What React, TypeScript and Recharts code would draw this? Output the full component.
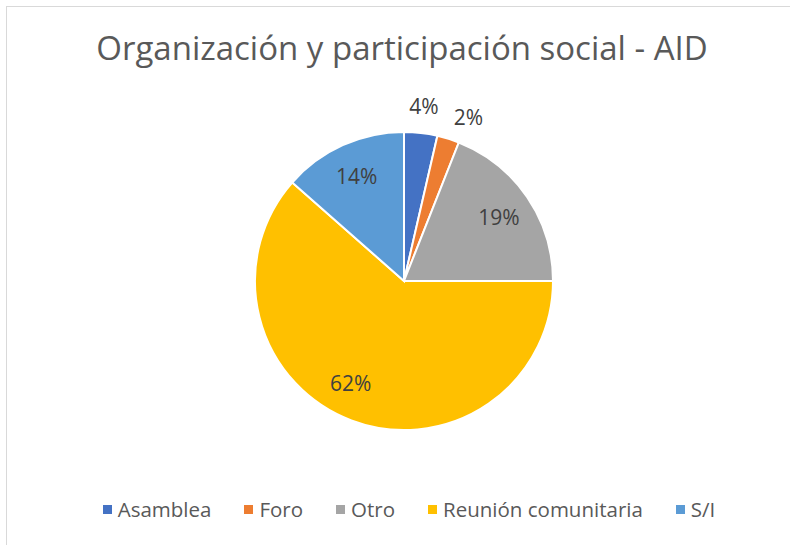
import { PieChart, Pie, Cell, Legend } from 'recharts'

const categories = ['Asamblea', 'Foro', 'Otro', 'Reunión comunitaria', 'S/I']
const shares = [3.6, 2.4, 19.0, 61.5, 13.5]
const COLORS = ['#4472C4', '#ED7D31', '#A5A5A5', '#FFC000', '#5B9BD5']

const data = categories.map((name, i) => ({ name, value: shares[i] }))

const FONT = '"Open Sans", sans-serif'
const RAD = Math.PI / 180

// outside labels get spread apart so they don't overlap (clockwise degrees from 12 o'clock)
const total = shares.reduce((s, v) => s + v, 0)
const outsideAngles: Record<number, number> = {}
{
  let acc = 0
  let prev = -999
  shares.forEach((v, i) => {
    const mid = ((acc + v / 2) / total) * 360
    acc += v
    if (v / total < 0.05) {
      const a = mid - prev < 15 ? prev + 15 : mid
      outsideAngles[i] = a
      prev = a
    }
  })
}

const renderLabel = (props: any) => {
  const { cx, cy, midAngle, outerRadius, percent, index } = props
  let x: number, y: number
  if (outsideAngles[index] !== undefined) {
    const a = outsideAngles[index] * RAD
    x = cx + 176 * Math.sin(a)
    y = cy - 176 * Math.cos(a)
  } else {
    // Excel nudges the label of the big slice a bit further round
    const ang = percent > 0.5 ? midAngle - 7 : midAngle
    const r = outerRadius * 0.77
    x = cx + r * Math.cos(-ang * RAD)
    y = cy + r * Math.sin(-ang * RAD)
  }
  return (
    <text x={x} y={y} fill="#404040" fontSize={21} fontFamily={FONT} textAnchor="middle" dominantBaseline="central">
      {`${Math.round(percent * 100)}%`}
    </text>
  )
}

const renderLegend = () => (
  <div style={{ display: 'flex', justifyContent: 'center', gap: 33, fontFamily: FONT, fontSize: 20.5, color: '#595959' }}>
    {categories.map((c, i) => (
      <div key={c} style={{ display: 'flex', alignItems: 'center' }}>
        <span style={{ width: 9, height: 9, background: COLORS[i], display: 'inline-block', marginRight: 6 }} />
        <span>{c}</span>
      </div>
    ))}
  </div>
)

export default function App() {
  return (
    <div style={{ position: 'fixed', left: 0, top: 0, width: 790, height: 545, overflow: 'hidden', background: '#fff' }}>
      <div style={{ position: 'absolute', left: 6, top: 6, width: 820, height: 580, border: '1px solid #d9d9d9' }} />
      <div style={{ position: 'absolute', left: 0, top: 25, width: 804, textAlign: 'center', fontFamily: FONT, fontSize: 33, color: '#595959' }}>
        Organización y participación social - AID
      </div>
      <div style={{ position: 'absolute', left: 0, top: 0 }}>
        <PieChart width={790} height={545} margin={{ top: 0, right: 0, bottom: 0, left: 0 }}>
          <Pie
            data={data}
            dataKey="value"
            nameKey="name"
            cx={404}
            cy={281}
            outerRadius={149}
            startAngle={90}
            endAngle={-270}
            stroke="#fff"
            strokeWidth={2}
            labelLine={false}
            label={renderLabel}
            isAnimationActive={false}
          >
            {data.map((_, i) => (
              <Cell key={`cell-${i}`} fill={COLORS[i]} />
            ))}
          </Pie>
          <Legend content={renderLegend} verticalAlign="bottom" wrapperStyle={{ bottom: 22, left: 14, width: 790 }} />
        </PieChart>
      </div>
    </div>
  )
}
